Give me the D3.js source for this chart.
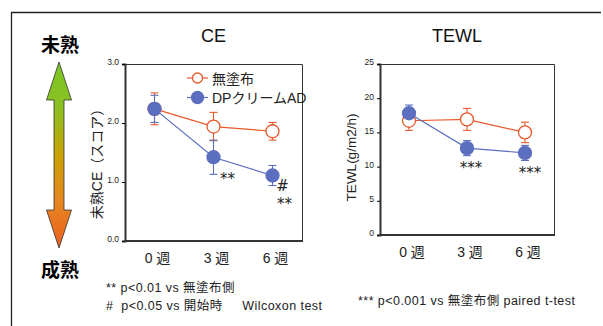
<!DOCTYPE html>
<html>
<head>
<meta charset="utf-8">
<script src="https://cdn.jsdelivr.net/npm/d3@7"></script>
<style>
  body { margin: 0; background: #fff; }
  text { font-family: "Liberation Sans", "Noto Sans CJK JP", sans-serif; }
</style>
</head>
<body>
<svg id="s1" width="603" height="326"></svg>
<script>
const weeks = ["0 週", "3 週", "6 週"];
const seriesNames = ["無塗布", "DPクリームAD"];

const ceUntreated = [2.24, 1.94, 1.86];
const ceUntreatedErr = [0.27, 0.24, 0.15];
const ceDP = [2.24, 1.42, 1.11];
const ceDPErr = [0.23, 0.29, 0.17];
const ceTicks = [0, 1, 2, 3];

const tewlUntreated = [16.7, 16.9, 15.0];
const tewlUntreatedErr = [1.4, 1.6, 1.5];
const tewlDP = [17.8, 12.7, 12.0];
const tewlDPErr = [1.2, 1.1, 1.1];
const tewlTicks = [0, 5, 10, 15, 20, 25];

const orange = "#e8592b", blue = "#5b6ebf";
const jp = "'Noto Sans CJK JP', sans-serif";
const mix = "'Liberation Sans', 'Noto Sans CJK JP', sans-serif";

const svg = d3.select("#s1");

// outer frame
svg.append("path").attr("d", "M11.5,326 V12.5 H601")
  .attr("fill", "none").attr("stroke", "#222").attr("stroke-width", 1.3);

// gradient arrow on the left
const grad = svg.append("defs").append("linearGradient")
  .attr("id", "g1").attr("x1", 0).attr("y1", 0).attr("x2", 0).attr("y2", 1);
grad.append("stop").attr("offset", "0%").attr("stop-color", "#7cc623");
grad.append("stop").attr("offset", "25%").attr("stop-color", "#8cbf22");
grad.append("stop").attr("offset", "50%").attr("stop-color", "#c9a203");
grad.append("stop").attr("offset", "75%").attr("stop-color", "#e88622");
grad.append("stop").attr("offset", "100%").attr("stop-color", "#ea5f1c");

const ax = 59, aTop = 62, aBot = 248, head = 38, hw = 12.5, sw = 5;
svg.append("path")
  .attr("d", `M${ax},${aTop} L${ax+hw},${aTop+head} L${ax+sw},${aTop+head} L${ax+sw},${aBot-head}
    L${ax+hw},${aBot-head} L${ax},${aBot} L${ax-hw},${aBot-head} L${ax-sw},${aBot-head}
    L${ax-sw},${aTop+head} L${ax-hw},${aTop+head} Z`)
  .attr("fill", "url(#g1)").attr("stroke", "#333").attr("stroke-width", 0.8);

svg.append("text").attr("x", 60).attr("y", 52).attr("text-anchor", "middle")
  .style("font-family", jp).style("font-weight", "bold").style("font-size", "19px").text("未熟");
svg.append("text").attr("x", 60).attr("y", 277).attr("text-anchor", "middle")
  .style("font-family", jp).style("font-weight", "bold").style("font-size", "19px").text("成熟");

function panel(o) {
  const x = d3.scalePoint().domain(weeks).range([o.left, o.right]).padding(0.5);
  const y = d3.scaleLinear().domain(o.domain).range([o.bottom, o.top]);
  const g = svg.append("g");

  // frame top/right thin
  g.append("path").attr("d", `M${o.left},${o.top+0.5} H${o.right+0.5} V${o.bottom}`)
    .attr("fill", "none").attr("stroke", "#333").attr("stroke-width", 1);

  const yAxis = g.append("g").attr("transform", `translate(${o.left},0)`)
    .call(d3.axisLeft(y).tickValues(o.ticks).tickSize(3).tickFormat(o.fmt));
  yAxis.select(".domain").attr("stroke", "#333").attr("stroke-width", 2);
  yAxis.selectAll("text").style("font-family", mix).style("font-size", "8.5px")
    .attr("fill", "#222").attr("dy", "0.1em");

  g.append("line").attr("x1", o.left - 1).attr("x2", o.right + 1)
    .attr("y1", o.bottom).attr("y2", o.bottom).attr("stroke", "#333").attr("stroke-width", 2);

  weeks.forEach(w => {
    g.append("text").attr("x", x(w) + 3).attr("y", o.bottom + 22).attr("text-anchor", "middle")
      .style("font-family", mix).style("font-size", "14px").attr("fill", "#222").text(w);
  });

  g.append("text").attr("x", (o.left + o.right) / 2 + o.titleDx).attr("y", 42)
    .attr("text-anchor", "middle").style("font-family", mix).style("font-size", "18px")
    .attr("fill", "#111").text(o.title);

  g.append("text")
    .attr("transform", `translate(${o.ylabX},${(o.top + o.bottom) / 2 + 8}) rotate(-90)`)
    .attr("text-anchor", "middle").style("font-family", mix).style("font-size", o.ylabSize)
    .attr("fill", "#222").text(o.ylabel);

  const series = [
    { v: o.untreated, e: o.untreatedErr, c: orange, filled: false },
    { v: o.dp, e: o.dpErr, c: blue, filled: true }
  ];
  // error bars first
  series.forEach(s => {
    s.v.forEach((v, i) => {
      const cx = x(weeks[i]);
      g.append("line").attr("x1", cx).attr("x2", cx).attr("y1", y(v - s.e[i])).attr("y2", y(v + s.e[i]))
        .attr("stroke", s.c).attr("stroke-width", 1.1);
      [v - s.e[i], v + s.e[i]].forEach(t => {
        g.append("line").attr("x1", cx - 4).attr("x2", cx + 4).attr("y1", y(t)).attr("y2", y(t))
          .attr("stroke", s.c).attr("stroke-width", 1.1);
      });
    });
  });
  series.forEach(s => {
    g.append("path").datum(s.v)
      .attr("d", d3.line().x((d, i) => x(weeks[i])).y(d => y(d)))
      .attr("fill", "none").attr("stroke", s.c).attr("stroke-width", 1.2);
  });
  series.forEach(s => {
    g.selectAll(null).data(s.v).join("circle")
      .attr("cx", (d, i) => x(weeks[i])).attr("cy", d => y(d)).attr("r", 6.5)
      .attr("fill", s.filled ? s.c : "#fff").attr("stroke", s.c).attr("stroke-width", 1.3);
  });

  o.marks.forEach(m => {
    g.append("text").attr("x", x(weeks[m.i]) + m.dx).attr("y", y(o.dp[m.i]) + m.dy)
      .attr("text-anchor", "middle").style("font-family", "'DejaVu Sans', sans-serif")
      .style("font-size", "15px").attr("fill", "#222").text(m.t);
  });

  return { x, y, g };
}

panel({
  left: 125, right: 302, top: 64, bottom: 241, domain: [0, 3], ticks: ceTicks,
  fmt: d3.format(".1f"), title: "CE", titleDx: 0, ylabX: 102, ylabSize: "14px",
  ylabel: "未熟CE（スコア）",
  untreated: ceUntreated, untreatedErr: ceUntreatedErr, dp: ceDP, dpErr: ceDPErr,
  marks: [{ i: 1, dx: 14, dy: 27, t: "**" }, { i: 2, dx: 10, dy: 15, t: "#" }, { i: 2, dx: 12, dy: 33, t: "**" }]
});

// legend
seriesNames.forEach((n, k) => {
  const ly = 78 + k * 19.5, c = k === 0 ? orange : blue;
  svg.append("line").attr("x1", 187).attr("x2", 208).attr("y1", ly).attr("y2", ly)
    .attr("stroke", c).attr("stroke-width", 1.2);
  svg.append("circle").attr("cx", 197.5).attr("cy", ly).attr("r", k === 0 ? 5 : 6)
    .attr("fill", k === 0 ? "#fff" : c).attr("stroke", c).attr("stroke-width", 1.3);
  svg.append("text").attr("x", 212).attr("y", ly + 5.5).style("font-family", mix)
    .style("font-size", "14px").attr("fill", "#222").text(n);
});

panel({
  left: 380, right: 554, top: 64, bottom: 235, domain: [0, 25], ticks: tewlTicks,
  fmt: d3.format("d"), title: "TEWL", titleDx: -10, ylabX: 356, ylabSize: "13.5px",
  ylabel: "TEWL(g/m2/h)",
  untreated: tewlUntreated, untreatedErr: tewlUntreatedErr, dp: tewlDP, dpErr: tewlDPErr,
  marks: [{ i: 1, dx: 4, dy: 25, t: "***" }, { i: 2, dx: 5, dy: 25, t: "***" }]
});

// footnotes
const fn = [
  { x: 106, y: 292, t: "** p<0.01 vs 無塗布側" },
  { x: 106, y: 310, t: "#  p<0.05 vs 開始時     Wilcoxon test" },
  { x: 358, y: 305, t: "*** p<0.001 vs 無塗布側 paired t-test" }
];
fn.forEach(f => {
  svg.append("text").attr("x", f.x).attr("y", f.y).style("font-family", mix)
    .style("font-size", "12.5px").style("letter-spacing", "0.45px").attr("fill", "#222")
    .style("white-space", "pre").text(f.t);
});
</script>
</body>
</html>
